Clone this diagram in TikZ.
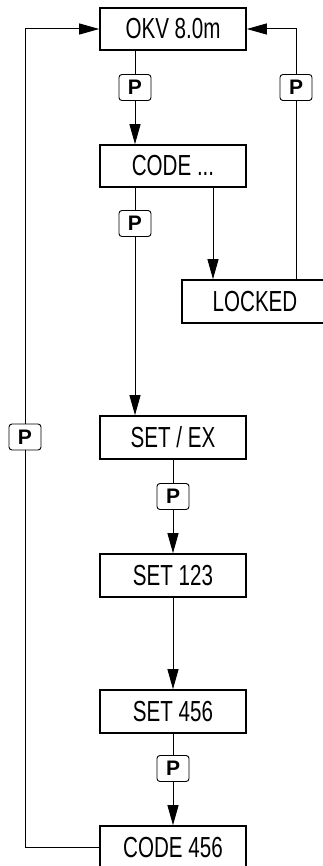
\documentclass[tikz,border=0pt]{standalone}
\usepackage{fontspec}
\usepackage{graphicx}
\usetikzlibrary{arrows.meta}
\newfontfamily\lcdfont{Liberation Sans}
\newfontfamily\pfont{Liberation Sans}
\newcommand{\lcdtxt}[1]{\scalebox{0.71}[1]{\lcdfont\fontsize{29}{30}\selectfont #1}}
\tikzset{
  disp/.style={draw, line width=1.6pt, minimum width=146pt, minimum height=42pt, inner sep=0pt, fill=white},
  pkey/.style={draw, line width=0.9pt, rounded corners=3pt, minimum width=32pt, minimum height=26pt, inner sep=0pt, fill=white, font=\pfont\bfseries\fontsize{21}{21}\selectfont},
  conn/.style={line width=1pt},
  arr/.style={conn, -{Triangle[length=20pt,width=11pt]}}
}
\begin{document}
\begin{tikzpicture}[x=1pt,y=-1pt]
\useasboundingbox (0,0) rectangle (323,866);
\node[disp] (OKV) at (173,29) {\lcdtxt{OKV 8.0m}};
\node[disp] (CODE) at (173,166) {\lcdtxt{CODE ...}};
\node[disp, minimum height=43pt] (LOCKED) at (255,301.5) {\lcdtxt{LOCKED}};
\node[disp, minimum height=43pt] (SETEX) at (173,437.5) {\lcdtxt{SET / EX}};
\node[disp, minimum height=43pt] (S123) at (173,575.5) {\lcdtxt{SET 123}};
\node[disp, minimum height=43pt] (S456) at (173,711.5) {\lcdtxt{SET 456}};
\node[disp, minimum height=43pt] (C456) at (173,847.5) {\lcdtxt{CODE 456}};
\node[pkey] (P1) at (135,87.5) {P};
\node[pkey] (PR) at (296,87.5) {P};
\node[pkey] (P2) at (135,223.5) {P};
\node[pkey] (PL) at (25,437) {P};
\node[pkey] (P3) at (173,496.5) {P};
\node[pkey] (P4) at (173,768.5) {P};
\coordinate (lkx) at (213,0);
% OKV -> CODE
\draw[conn] (OKV.south -| P1) -- (P1.north);
\draw[arr] (P1.south) -- (CODE.north -| P1);
% CODE -> SET/EX
\draw[conn] (CODE.south -| P2) -- (P2.north);
\draw[arr] (P2.south) -- (SETEX.north -| P2);
% CODE -> LOCKED
\draw[arr] (CODE.south -| lkx) -- (LOCKED.north -| lkx);
% LOCKED -> OKV
\draw[conn] (LOCKED.north -| PR) -- (PR.south);
\draw[arr] (PR.north) -- (PR |- OKV.east) -- (OKV.east);
% SET/EX -> SET123
\draw[conn] (SETEX.south) -- (P3.north);
\draw[arr] (P3.south) -- (S123.north);
% SET123 -> SET456
\draw[arr] (S123.south) -- (S456.north);
% SET456 -> CODE456
\draw[conn] (S456.south) -- (P4.north);
\draw[arr] (P4.south) -- (C456.north);
% CODE456 -> OKV
\draw[conn] (C456.west) -- (C456.west -| PL) -- (PL.south);
\draw[arr] (PL.north) -- (PL |- OKV.west) -- (OKV.west);
\end{tikzpicture}
\end{document}
